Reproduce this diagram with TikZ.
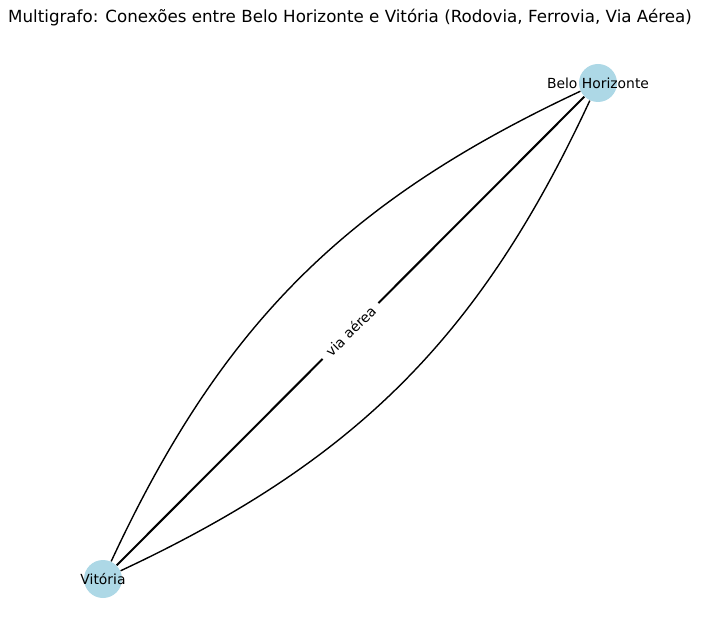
\documentclass[tikz,border=0pt]{standalone}
\usepackage{fontspec}
\setmainfont{DejaVu Sans}
\usepackage{xcolor}
\usetikzlibrary{arrows.meta, positioning, calc}
\definecolor{nodeblue}{HTML}{ADD8E6}

\begin{document}
\begin{tikzpicture}[x=0.5pt, y=-0.5pt,
    city/.style={circle, fill=nodeblue, minimum size=19pt, inner sep=0pt},
    citylabel/.style={font=\fontsize{6.95}{8}\selectfont, inner sep=0pt},
    route/.style={line width=0.7pt}]
    \useasboundingbox (0,0) rectangle (701,641);
    \node[font=\fontsize{8.35}{10}\selectfont] (title) at (350,18)
        {Multigrafo: Conexões entre Belo Horizonte e Vitória (Rodovia, Ferrovia, Via Aérea)};
    \node[city] (bh) at (598,83) {};
    \node[city] (vit) at (103,579) {};
    \draw[route] (vit) to[bend left=20] (bh);
    \draw[route] (vit) to[bend right=20] (bh);
    \draw[route, line width=1pt] (vit) -- node[sloped, fill=white, inner xsep=3.5pt, inner ysep=2pt,
        font=\fontsize{6.95}{8}\selectfont] (air) {via aérea} (bh);
    \node[citylabel] (bhlabel) at (bh) {Belo Horizonte};
    \node[citylabel] (vitlabel) at (vit) {Vitória};
\end{tikzpicture}
\end{document}
